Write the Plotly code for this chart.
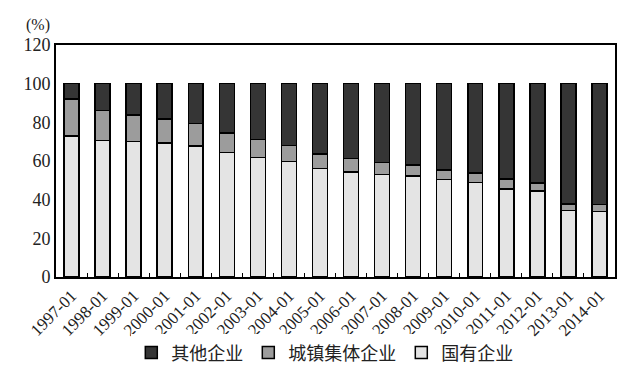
import plotly.graph_objects as go

categories = ["1997-01", "1998-01", "1999-01", "2000-01", "2001-01", "2002-01",
              "2003-01", "2004-01", "2005-01", "2006-01", "2007-01", "2008-01",
              "2009-01", "2010-01", "2011-01", "2012-01", "2013-01", "2014-01"]
state_owned = [73.0, 70.7, 70.0, 69.2, 67.8, 64.5, 61.9, 59.7, 56.0, 54.4, 52.9, 52.2,
               50.4, 49.0, 45.6, 44.4, 34.3, 34.0]
urban_collective = [19.0, 15.4, 13.9, 12.6, 11.7, 10.0, 9.3, 8.4, 7.5, 6.9, 6.4, 5.7,
                    4.9, 4.9, 5.0, 4.1, 3.5, 3.4]
other = [round(100 - s - c, 1) for s, c in zip(state_owned, urban_collective)]

font_family = "'Liberation Serif', 'Noto Sans CJK SC', serif"
line = dict(color="black", width=1.5)

fig = go.Figure()
fig.add_trace(go.Bar(x=categories, y=state_owned, name="国有企业",
                     marker=dict(color="#e4e4e4", line=line)))
fig.add_trace(go.Bar(x=categories, y=urban_collective, name="城镇集体企业",
                     marker=dict(color="#9c9c9c", line=line)))
fig.add_trace(go.Bar(x=categories, y=other, name="其他企业",
                     marker=dict(color="#353535", line=line)))

fig.update_layout(
    barmode="stack",
    bargap=0.52,
    width=640, height=370,
    margin=dict(l=48, r=33, t=37, b=101, autoexpand=False),
    paper_bgcolor="white", plot_bgcolor="white",
    font=dict(family=font_family, color="#222", size=16),
    showlegend=True,
    legend=dict(orientation="h", traceorder="reversed", x=0.495, xanchor="center",
                xref="container", yref="container",
                y=0.068, yanchor="middle", font=dict(size=18),
                tracegroupgap=0),
    annotations=[dict(text="(%)", xref="paper", yref="paper", x=-0.008, y=1.085,
                      xanchor="right", yanchor="middle", showarrow=False,
                      font=dict(size=16, family=font_family))],
)
fig.update_xaxes(type="category", showline=True, linecolor="black", linewidth=2,
                 mirror=True, ticks="inside", tickson="boundaries", ticklen=4,
                 tickcolor="black", tickangle=-45, tickfont=dict(size=17))
fig.update_yaxes(range=[0, 120], dtick=20, showgrid=False, showline=True,
                 linecolor="black", linewidth=2, mirror=True, ticks="",
                 tickfont=dict(size=18), zeroline=False)

fig.write_html("out.html")
